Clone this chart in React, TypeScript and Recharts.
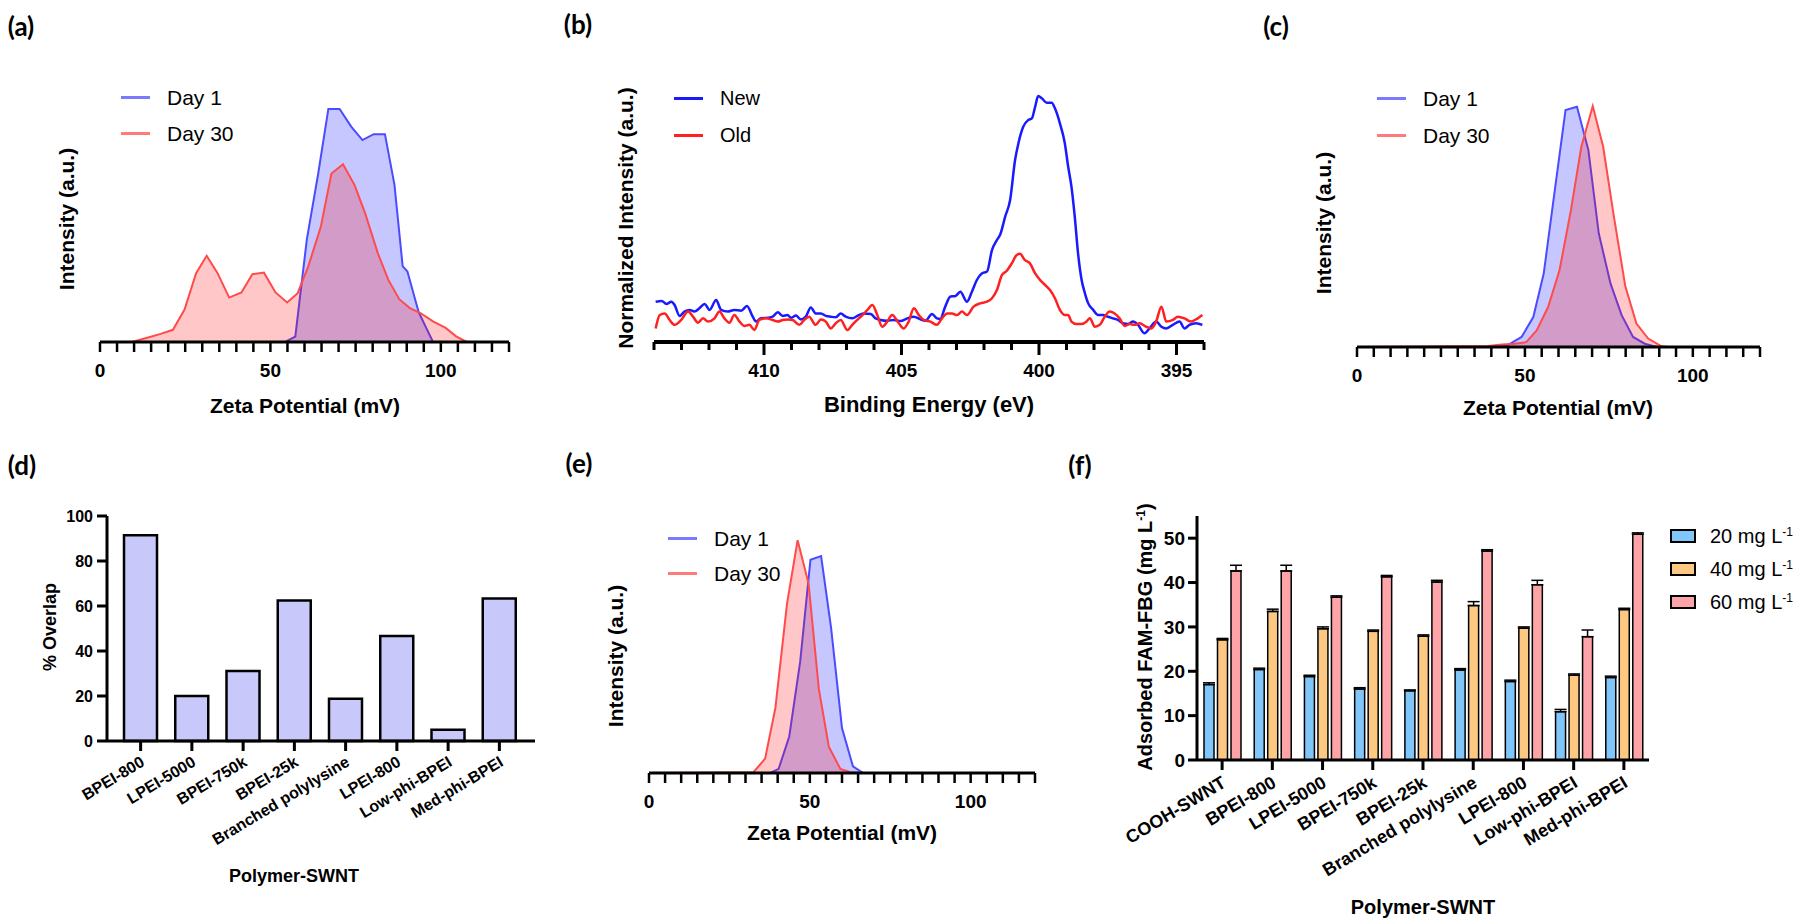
import React from 'react';
import { ComposedChart, Area, Line, Bar, XAxis, YAxis, ErrorBar } from 'recharts';

const FONT = '"Liberation Sans", Arial, Helvetica, sans-serif';
const LETTER_FONT = 'Lato, "Open Sans", sans-serif';

// (a) zeta potential distribution
const aDay1X = [0, 54.3, 57.3, 60.7, 64, 67, 70.3, 73.7, 77, 80.3, 83.6, 86.4, 88.8, 90.2, 93.5, 97.7, 108];
const aDay1Y = [0, 0, 2, 38, 62, 86, 86, 79.5, 74.5, 76.7, 76.7, 58, 28, 26, 11, 0, 0];
const aDay30X = [0, 9.4, 13.6, 17.8, 21.4, 24.8, 28.2, 31.3, 34.5, 37.9, 41.5, 44.7, 48.1, 51.5, 54.9, 58, 61.1, 64.8, 67.9, 71.3, 74.7, 77.8, 81.5, 84.6, 87.8, 90.9, 94, 97.7, 101.4, 104.5, 107.6];
const aDay30Y = [0, 0, 1.5, 3, 4.5, 12, 25.4, 31.8, 25.4, 16.4, 18.3, 25, 25.6, 18.3, 14.6, 18, 27.9, 42.6, 62.2, 65.6, 57.9, 47.5, 32.8, 22.9, 15.8, 12.5, 10.7, 7.6, 5.2, 2.1, 0];

// (b) XPS N 1s
const bNewE = [413.94, 413.72, 413.55, 413.37, 413.25, 413.07, 412.89, 412.71, 412.53, 412.35,
  412.16, 411.98, 411.74, 411.56, 411.32, 411.08, 410.83, 410.62, 410.41, 410.29,
  410.11, 409.87, 409.69, 409.5, 409.32, 409.14, 409.02, 408.84, 408.66, 408.48,
  408.3, 408.12, 407.93, 407.75, 407.57, 407.39, 407.21, 407.03, 406.79, 406.55,
  406.37, 406.12, 405.94, 405.76, 405.52, 405.28, 405.04, 404.79, 404.55, 404.31,
  404.13, 403.89, 403.71, 403.59, 403.41, 403.22, 403.04, 402.86, 402.62, 402.44,
  402.26, 402.08, 401.89, 401.71, 401.53, 401.41, 401.23, 401.05, 400.87, 400.75,
  400.57, 400.39, 400.26, 400.14, 400.03, 399.9, 399.72, 399.54, 399.42, 399.24,
  399.06, 398.94, 398.82, 398.7, 398.58, 398.45, 398.33, 398.21, 398.03, 397.85,
  397.67, 397.49, 397.31, 397.13, 396.95, 396.76, 396.58, 396.4, 396.16, 395.98,
  395.74, 395.55, 395.37, 395.13, 394.89, 394.71, 394.53, 394.29, 394.06];
const bNewI = [0.148, 0.151, 0.14, 0.148, 0.136, 0.096, 0.112, 0.118, 0.112, 0.124,
  0.14, 0.118, 0.154, 0.118, 0.112, 0.118, 0.115, 0.132, 0.093, 0.075,
  0.087, 0.089, 0.093, 0.109, 0.096, 0.099, 0.089, 0.097, 0.083, 0.093,
  0.127, 0.105, 0.105, 0.096, 0.093, 0.091, 0.105, 0.093, 0.087, 0.099,
  0.105, 0.103, 0.087, 0.081, 0.078, 0.081, 0.077, 0.087, 0.093, 0.083,
  0.078, 0.103, 0.087, 0.085, 0.13, 0.167, 0.169, 0.185, 0.148, 0.185,
  0.228, 0.252, 0.259, 0.338, 0.375, 0.395, 0.461, 0.522, 0.669, 0.73,
  0.792, 0.816, 0.822, 0.865, 0.904, 0.896, 0.88, 0.88, 0.859, 0.804,
  0.73, 0.645, 0.571, 0.461, 0.326, 0.228, 0.179, 0.142, 0.118, 0.099,
  0.099, 0.093, 0.087, 0.081, 0.069, 0.066, 0.075, 0.063, 0.032, 0.05,
  0.075, 0.056, 0.05, 0.063, 0.075, 0.05, 0.063, 0.069, 0.063];
const bOldE = [413.94, 413.79, 413.61, 413.43, 413.25, 413.01, 412.76, 412.58, 412.4, 412.22,
  412.04, 411.8, 411.62, 411.44, 411.26, 411.08, 410.89, 410.71, 410.53, 410.35,
  410.17, 409.93, 409.69, 409.5, 409.32, 409.14, 408.96, 408.72, 408.54, 408.36,
  408.12, 407.93, 407.75, 407.57, 407.39, 407.21, 406.97, 406.79, 406.61, 406.42,
  406.24, 406.06, 405.88, 405.7, 405.52, 405.34, 405.1, 404.92, 404.74, 404.55,
  404.37, 404.19, 403.95, 403.71, 403.53, 403.34, 403.16, 402.98, 402.8, 402.62,
  402.38, 402.14, 401.89, 401.71, 401.53, 401.35, 401.17, 400.99, 400.81, 400.69,
  400.51, 400.33, 400.14, 399.96, 399.78, 399.6, 399.42, 399.24, 399.06, 398.94,
  398.82, 398.64, 398.45, 398.27, 398.15, 397.97, 397.79, 397.61, 397.43, 397.25,
  397.07, 396.88, 396.7, 396.52, 396.34, 396.1, 395.92, 395.74, 395.55, 395.37,
  395.13, 394.95, 394.71, 394.47, 394.23, 394.06];
const bOldI = [0.05, 0.099, 0.105, 0.081, 0.063, 0.081, 0.112, 0.093, 0.071, 0.087,
  0.075, 0.087, 0.112, 0.087, 0.071, 0.099, 0.075, 0.059, 0.063, 0.044,
  0.081, 0.087, 0.081, 0.075, 0.081, 0.083, 0.081, 0.063, 0.081, 0.093,
  0.063, 0.083, 0.075, 0.05, 0.069, 0.081, 0.044, 0.063, 0.081, 0.099,
  0.118, 0.136, 0.099, 0.056, 0.075, 0.099, 0.069, 0.05, 0.075, 0.124,
  0.099, 0.081, 0.075, 0.063, 0.087, 0.105, 0.105, 0.099, 0.112, 0.099,
  0.13, 0.142, 0.148, 0.161, 0.191, 0.246, 0.262, 0.289, 0.32, 0.324,
  0.301, 0.289, 0.252, 0.228, 0.21, 0.191, 0.161, 0.118, 0.099, 0.099,
  0.075, 0.066, 0.066, 0.075, 0.087, 0.056, 0.063, 0.093, 0.112, 0.105,
  0.087, 0.059, 0.066, 0.063, 0.069, 0.056, 0.05, 0.075, 0.13, 0.075,
  0.081, 0.093, 0.087, 0.075, 0.087, 0.099];

// (c) zeta potential distribution
const cDay1X = [0, 41, 44.8, 49, 52.5, 55.6, 58.9, 62.1, 65.5, 68.9, 72, 75.5, 78.8, 82.2, 85.7, 89.3, 120];
const cDay1Y = [0, 0, 0.6, 3.7, 11, 27, 57.7, 87.1, 88.3, 72.4, 41.7, 23.3, 11.7, 3.7, 1.2, 0, 0];
const cDay30X = [0, 39, 43.2, 46.9, 50.4, 53.5, 56.9, 60.3, 63.7, 66.8, 70.2, 73.3, 76.5, 79.9, 83.2, 86.7, 90.4, 92.5, 120];
const cDay30Y = [0, 0.4, 0.9, 1.2, 1.8, 6.1, 14.7, 28.2, 50.3, 73.6, 88.6, 73.6, 47.9, 22.3, 8.6, 3.1, 0.4, 0, 0];

// (d) % overlap
const overlapNames = ['BPEI-800', 'LPEI-5000', 'BPEI-750k', 'BPEI-25k', 'Branched polylysine', 'LPEI-800', 'Low-phi-BPEI', 'Med-phi-BPEI'];
const overlapPct = [91.4, 20.0, 31.1, 62.5, 18.8, 46.7, 5.0, 63.3];

// (e) zeta potential distribution
const eDay1X = [0, 37.7, 40.3, 43.6, 47, 50.2, 53.5, 56.6, 60, 63.4, 66.6, 110];
const eDay1Y = [0, 0, 1.6, 14.2, 43.3, 83, 84.4, 56.6, 17.5, 2.6, 0, 0];
const eDay30X = [0, 32.5, 36.1, 39.3, 42.9, 46.2, 49.6, 52.8, 55.9, 59.5, 62.6, 65.7, 110];
const eDay30Y = [0, 0.3, 5.6, 25.4, 65.8, 90.6, 73.8, 32.7, 10.2, 1.6, 0.3, 0, 0];

// (f) adsorbed FAM-FBG
const adsNames = ['COOH-SWNT', 'BPEI-800', 'LPEI-5000', 'BPEI-750k', 'BPEI-25k', 'Branched polylysine', 'LPEI-800', 'Low-phi-BPEI', 'Med-phi-BPEI'];
const ads20 = [17.0, 20.4, 18.8, 16.0, 15.6, 20.3, 17.7, 10.9, 18.6];
const ads40 = [27.1, 33.5, 29.6, 29.0, 27.9, 34.8, 29.7, 19.1, 33.9];
const ads60 = [42.6, 42.6, 36.7, 41.3, 40.1, 47.1, 39.5, 27.8, 50.9];
const err20 = [0.4, 0.3, 0.3, 0.3, 0.2, 0.3, 0.3, 0.5, 0.3];
const err40 = [0.3, 0.5, 0.4, 0.3, 0.3, 0.9, 0.3, 0.3, 0.3];
const err60 = [1.3, 1.3, 0.3, 0.3, 0.4, 0.3, 1.0, 1.5, 0.3];

const zetaTicks = [0, 5, 10, 15, 20, 25, 30, 35, 40, 45, 50, 55, 60, 65, 70, 75, 80, 85, 90, 95, 100, 105, 110, 115, 120];
const bindingTicks = [394, 395, 396, 397, 398, 399, 400, 401, 402, 403, 404, 405, 406, 407, 408, 409, 410, 411, 412, 413, 414];

function merge(xa: number[], ya: number[], xb: number[], yb: number[], ka: string, kb: string) {
  const m = new Map<number, any>();
  xa.forEach((x, i) => { const r = m.get(x) || { x }; r[ka] = ya[i]; m.set(x, r); });
  xb.forEach((x, i) => { const r = m.get(x) || { x }; r[kb] = yb[i]; m.set(x, r); });
  return [...m.values()].sort((p, q) => p.x - q.x);
}

const aRows = merge(aDay1X, aDay1Y, aDay30X, aDay30Y, 'day1', 'day30');
const cRows = merge(cDay1X, cDay1Y, cDay30X, cDay30Y, 'day1', 'day30');
const eRows = merge(eDay1X, eDay1Y, eDay30X, eDay30Y, 'day1', 'day30');
const bRows = merge(bNewE, bNewI, bOldE, bOldI, 'newI', 'oldI').reverse();
const dRows = overlapNames.map((name, i) => ({ name, overlap: overlapPct[i] }));
const fRows = adsNames.map((name, i) => ({
  name, c20: ads20[i], c40: ads40[i], c60: ads60[i],
  e20: [0, err20[i]], e40: [0, err40[i]], e60: [0, err60[i]],
}));

type Rect = { x: number; y: number; w: number; h: number };
const M = 10;
const PADL = 100; // extra room on the left for rotated category labels

function Txt({ x, y, size, bold = false, rotate = false, anchor = 'middle', family = FONT, children }: any) {
  const tx = anchor === 'middle' ? '-50%' : anchor === 'end' ? '-100%' : '0';
  return (
    <div style={{
      position: 'absolute', left: x, top: y, transform: `translate(${tx}, -50%)${rotate ? ' rotate(-90deg)' : ''}`,
      fontFamily: family, fontSize: size, fontWeight: bold ? 700 : 400, lineHeight: 1, whiteSpace: 'nowrap', color: '#000',
    }}>{children}</div>
  );
}

function LegLine({ x1, x2, y, color }: any) {
  return <div style={{ position: 'absolute', left: x1, top: y - 1.5, width: x2 - x1, height: 3, background: color }} />;
}

function ZetaTick({ x, y, payload }: any) {
  const v = payload.value;
  return (
    <g>
      <line x1={x} x2={x} y1={y} y2={y + 10} stroke="#000" strokeWidth={2.5} />
      {v % 50 === 0 && (
        <text x={x} y={y + 35} textAnchor="middle" fontSize={19} fontWeight={700} fontFamily={FONT} fill="#000">{v}</text>
      )}
    </g>
  );
}

function BindingTick({ x, y, payload }: any) {
  const major = payload.value % 5 === 0;
  return (
    <g>
      <line x1={x} x2={x} y1={y} y2={y + (major ? 13 : 8)} stroke="#000" strokeWidth={3} />
      {major && (
        <text x={x} y={y + 35} textAnchor="middle" fontSize={19} fontWeight={700} fontFamily={FONT} fill="#000">{payload.value}</text>
      )}
    </g>
  );
}

function CatTick({ x, y, payload, fs, dx, dy }: any) {
  return (
    <g>
      <line x1={x} x2={x} y1={y} y2={y + 10} stroke="#000" strokeWidth={3} />
      <text transform={`translate(${x + dx},${y + dy}) rotate(-31)`} textAnchor="end" fontSize={fs} fontWeight={700} fontFamily={FONT} fill="#000">{payload.value}</text>
    </g>
  );
}

const frame = (w: number) => ({ stroke: '#000', strokeWidth: w });

function ZetaPlot({ r, rows }: { r: Rect; rows: any[] }) {
  return (
    <div style={{ position: 'absolute', left: r.x - M, top: r.y - M }}>
      <ComposedChart width={r.w + 2 * M} height={r.h + 2 * M + 45} data={rows} margin={{ top: M, right: M, bottom: M, left: M }}>
        <XAxis xAxisId="b" type="number" dataKey="x" domain={[0, 120]} ticks={zetaTicks} interval={0} tickSize={0} tickMargin={0} tickLine={false} tick={<ZetaTick />} axisLine={frame(3)} height={45} />
        <XAxis xAxisId="t" orientation="top" type="number" dataKey="x" domain={[0, 120]} tick={false} tickLine={false} axisLine={frame(3)} height={0} />
        <YAxis yAxisId="l" type="number" domain={[0, 100]} tick={false} tickLine={false} axisLine={frame(3)} width={0} />
        <YAxis yAxisId="r" orientation="right" type="number" domain={[0, 100]} tick={false} tickLine={false} axisLine={frame(3)} width={0} />
        <Area xAxisId="b" yAxisId="l" type="linear" dataKey="day1" stroke="#4b4bff" strokeWidth={2} fill="#0000ff" fillOpacity={0.22} connectNulls dot={false} activeDot={false} isAnimationActive={false} />
        <Area xAxisId="b" yAxisId="l" type="linear" dataKey="day30" stroke="#ff4b4b" strokeWidth={2} fill="#ff0000" fillOpacity={0.22} connectNulls dot={false} activeDot={false} isAnimationActive={false} />
      </ComposedChart>
    </div>
  );
}

function ZetaLegend({ x, y1, y2 }: any) {
  return (
    <>
      <LegLine x1={x} x2={x + 29} y={y1} color="#7a7aff" />
      <LegLine x1={x} x2={x + 29} y={y2} color="#ff7a7a" />
      <Txt x={x + 46} y={y1} size={21} anchor="start">Day 1</Txt>
      <Txt x={x + 46} y={y2} size={21} anchor="start">Day 30</Txt>
    </>
  );
}

const rA: Rect = { x: 100, y: 71, w: 409, h: 271 };
const rB: Rect = { x: 654, y: 70, w: 550, h: 272 };
const rC: Rect = { x: 1357, y: 75, w: 403, h: 272 };
const rD: Rect = { x: 107, y: 516, w: 428, h: 225 };
const rE: Rect = { x: 649, y: 516, w: 386, h: 257 };
const rF: Rect = { x: 1197, y: 516, w: 452, h: 244 };

export default function App() {
  const tickStyle = (fs: number) => ({ fontSize: fs, fontWeight: 700, fill: '#000', fontFamily: FONT });
  return (
    <div style={{ position: 'absolute', left: 0, top: 0, width: 1800, height: 924, background: '#fff', overflow: 'hidden' }}>
      {/* (a) */}
      <Txt x={21} y={26} size={26} bold family={LETTER_FONT}>(a)</Txt>
      <ZetaPlot r={rA} rows={aRows} />
      <ZetaLegend x={121} y1={97} y2={133} />
      <Txt x={66} y={219} size={21} bold rotate>Intensity (a.u.)</Txt>
      <Txt x={305} y={405} size={21} bold>Zeta Potential (mV)</Txt>

      {/* (b) */}
      <Txt x={578} y={24} size={26} bold family={LETTER_FONT}>(b)</Txt>
      <div style={{ position: 'absolute', left: rB.x - M, top: rB.y - M }}>
        <ComposedChart width={rB.w + 2 * M} height={rB.h + 2 * M + 45} data={bRows} margin={{ top: M, right: M, bottom: M, left: M }}>
          <XAxis xAxisId="b" type="number" dataKey="x" domain={[394, 414]} reversed ticks={bindingTicks} interval={0} tickSize={0} tickMargin={0} tickLine={false} tick={<BindingTick />} axisLine={frame(4)} height={45} />
          <XAxis xAxisId="t" orientation="top" type="number" dataKey="x" domain={[394, 414]} reversed tick={false} tickLine={false} axisLine={frame(4)} height={0} />
          <YAxis yAxisId="l" type="number" domain={[0, 1]} tick={false} tickLine={false} axisLine={frame(4)} width={0} />
          <YAxis yAxisId="r" orientation="right" type="number" domain={[0, 1]} tick={false} tickLine={false} axisLine={frame(4)} width={0} />
          <Line xAxisId="b" yAxisId="l" type="monotone" dataKey="newI" stroke="#1a1aff" strokeWidth={2.5} dot={false} activeDot={false} connectNulls isAnimationActive={false} />
          <Line xAxisId="b" yAxisId="l" type="monotone" dataKey="oldI" stroke="#ff2020" strokeWidth={2.5} dot={false} activeDot={false} connectNulls isAnimationActive={false} />
        </ComposedChart>
      </div>
      <LegLine x1={674} x2={703} y={98} color="#1a1aff" />
      <LegLine x1={674} x2={703} y={135} color="#ff2020" />
      <Txt x={720} y={98} size={20} anchor="start">New</Txt>
      <Txt x={720} y={135} size={20} anchor="start">Old</Txt>
      <Txt x={625} y={218} size={21} bold rotate>Normalized Intensity (a.u.)</Txt>
      <Txt x={929} y={405} size={22} bold>Binding Energy (eV)</Txt>

      {/* (c) */}
      <Txt x={1276} y={26} size={26} bold family={LETTER_FONT}>(c)</Txt>
      <ZetaPlot r={rC} rows={cRows} />
      <ZetaLegend x={1377} y1={98} y2={135} />
      <Txt x={1323} y={223} size={21} bold rotate>Intensity (a.u.)</Txt>
      <Txt x={1558} y={407} size={21} bold>Zeta Potential (mV)</Txt>

      {/* (d) */}
      <Txt x={22} y={465} size={26} bold family={LETTER_FONT}>(d)</Txt>
      <div style={{ position: 'absolute', left: rD.x - 60 - PADL, top: rD.y - M }}>
        <ComposedChart width={PADL + 60 + rD.w + M} height={M + rD.h + 150} data={dRows} margin={{ top: M, right: M, bottom: 0, left: PADL }}>
          <XAxis xAxisId="b" dataKey="name" type="category" padding={{ left: 8, right: 10 }} interval={0} tickSize={0} tickMargin={0} tickLine={false} tick={<CatTick fs={16} dx={5} dy={24} />} axisLine={frame(3)} height={150} />
          <XAxis xAxisId="t" orientation="top" dataKey="name" type="category" padding={{ left: 8, right: 10 }} tick={false} tickLine={false} axisLine={frame(3)} height={0} />
          <YAxis yAxisId="l" type="number" domain={[0, 100]} ticks={[0, 20, 40, 60, 80, 100]} interval={0} width={60} tickSize={10} tickMargin={4} tickLine={frame(3)} axisLine={frame(3)} tick={tickStyle(16)} />
          <YAxis yAxisId="r" orientation="right" type="number" domain={[0, 100]} tick={false} tickLine={false} axisLine={frame(3)} width={0} />
          <Bar xAxisId="b" yAxisId="l" dataKey="overlap" barSize={33} fill="#c8c8fa" stroke="#000" strokeWidth={2.5} isAnimationActive={false} />
        </ComposedChart>
      </div>
      <Txt x={50} y={627} size={18} bold rotate>% Overlap</Txt>
      <Txt x={294} y={876} size={18} bold>Polymer-SWNT</Txt>

      {/* (e) */}
      <Txt x={579} y={463} size={26} bold family={LETTER_FONT}>(e)</Txt>
      <ZetaPlot r={rE} rows={eRows} />
      <ZetaLegend x={668} y1={538} y2={573} />
      <Txt x={615} y={656} size={21} bold rotate>Intensity (a.u.)</Txt>
      <Txt x={842} y={832} size={21} bold>Zeta Potential (mV)</Txt>

      {/* (f) */}
      <Txt x={1080} y={465} size={26} bold family={LETTER_FONT}>(f)</Txt>
      <div style={{ position: 'absolute', left: rF.x - 60 - PADL, top: rF.y - M }}>
        <ComposedChart width={PADL + 60 + rF.w + M} height={M + rF.h + 150} data={fRows} margin={{ top: M, right: M, bottom: 0, left: PADL }} barGap={3.5}>
          <XAxis xAxisId="b" dataKey="name" type="category" interval={0} tickSize={0} tickMargin={0} tickLine={false} tick={<CatTick fs={18} dx={5} dy={26} />} axisLine={frame(3)} height={150} />
          <XAxis xAxisId="t" orientation="top" dataKey="name" type="category" tick={false} tickLine={false} axisLine={frame(3)} height={0} />
          <YAxis yAxisId="l" type="number" domain={[0, 55]} ticks={[0, 10, 20, 30, 40, 50]} interval={0} width={60} tickSize={9} tickMargin={3} tickLine={frame(3)} axisLine={frame(3)} tick={tickStyle(19)} />
          <YAxis yAxisId="r" orientation="right" type="number" domain={[0, 55]} tick={false} tickLine={false} axisLine={frame(3)} width={0} />
          <Bar xAxisId="b" yAxisId="l" dataKey="c20" barSize={10} fill="#80c6f8" stroke="#000" strokeWidth={1.5} isAnimationActive={false}>
            <ErrorBar dataKey="e20" width={6} stroke="#000" strokeWidth={1.5} direction="y" isAnimationActive={false} />
          </Bar>
          <Bar xAxisId="b" yAxisId="l" dataKey="c40" barSize={10} fill="#fdc882" stroke="#000" strokeWidth={1.5} isAnimationActive={false}>
            <ErrorBar dataKey="e40" width={6} stroke="#000" strokeWidth={1.5} direction="y" isAnimationActive={false} />
          </Bar>
          <Bar xAxisId="b" yAxisId="l" dataKey="c60" barSize={10} fill="#fda4a8" stroke="#000" strokeWidth={1.5} isAnimationActive={false}>
            <ErrorBar dataKey="e60" width={6} stroke="#000" strokeWidth={1.5} direction="y" isAnimationActive={false} />
          </Bar>
        </ComposedChart>
      </div>
      <Txt x={1145} y={637} size={20} bold rotate>Adsorbed FAM-FBG (mg L<sup style={{ fontSize: '0.6em' }}>-1</sup>)</Txt>
      <Txt x={1423} y={907} size={20} bold>Polymer-SWNT</Txt>
      {[['#80c6f8', '20', 536], ['#fdc882', '40', 569], ['#fda4a8', '60', 602]].map(([c, t, y]: any) => (
        <React.Fragment key={t}>
          <div style={{ position: 'absolute', left: 1670, top: y - 7, width: 22, height: 10, background: c, border: '2px solid #000' }} />
          <Txt x={1710} y={y} size={20} anchor="start">{t} mg L<sup style={{ fontSize: '0.6em' }}>-1</sup></Txt>
        </React.Fragment>
      ))}
    </div>
  );
}
